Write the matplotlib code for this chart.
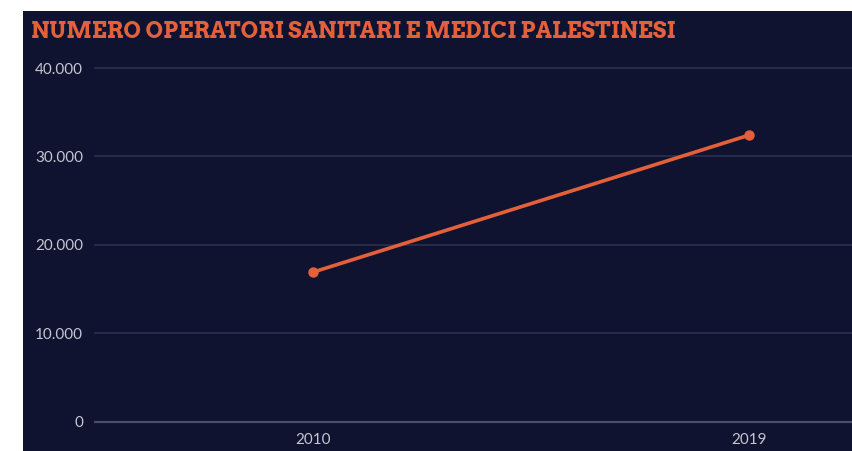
import matplotlib
matplotlib.use("Agg")
import matplotlib.pyplot as plt
from matplotlib.ticker import FuncFormatter

years = ["2010", "2019"]
values = [16900, 32400]
yticks = [0, 10000, 20000, 30000, 40000]
title = "NUMERO OPERATORI SANITARI E MEDICI PALESTINESI"

W, H = 853, 451
bg = "#10132f"
orange = "#e4603a"
tickc = "#c5c6d2"

fig = plt.figure(figsize=(W / 100, H / 100), dpi=100, facecolor="white")
bgax = fig.add_axes([23 / W, 0, 1 - 23 / W, 1 - 11 / H], zorder=-10)
bgax.set_facecolor(bg)
bgax.set_xticks([]); bgax.set_yticks([])
for s in bgax.spines.values():
    s.set_visible(False)

left_px = 94
top_px, bot_px = 60, 432
ax = fig.add_axes([left_px / W, 1 - bot_px / H, 1 - left_px / W, (bot_px - top_px) / H], zorder=1)
ax.patch.set_alpha(0)

y0_px, y40_px = 421.5, 68
upp = 40000 / (y0_px - y40_px)
ax.set_ylim(-(bot_px - y0_px) * upp, 40000 + (y40_px - top_px) * upp)

xpos = list(range(len(years)))
px2010, px2019 = 313, 749
xpp = 1 / (px2019 - px2010)
ax.set_xlim(-(px2010 - left_px) * xpp, 1 + (W - px2019) * xpp)

for t in yticks:
    ax.axhline(t, color="#4a4d6c" if t == 0 else "#2b2e50", lw=1.6 if t == 0 else 1.2, zorder=1)

ax.plot(xpos, values, color=orange, lw=2.6, marker="o", markersize=6.5, zorder=3,
        solid_capstyle="round")

ax.set_yticks(yticks)
ax.yaxis.set_major_formatter(FuncFormatter(lambda v, p: f"{int(v):,}".replace(",", ".")))
ax.set_xticks(xpos)
ax.set_xticklabels(years)
ax.tick_params(axis="both", length=0, colors=tickc, labelsize=11)
ax.tick_params(axis="y", pad=8)
ax.tick_params(axis="x", pad=1)
for lab in ax.get_xticklabels() + ax.get_yticklabels():
    lab.set_family(["Lato", "DejaVu Sans"])
for s in ax.spines.values():
    s.set_visible(False)

t = fig.text(31 / W, 1 - 38 / H, title, color=orange, fontsize=14, fontweight="bold",
             family=["Arvo", "DejaVu Serif"], va="baseline", ha="left")
fig.canvas.draw()
w = t.get_window_extent().width
t.set_fontsize(14 * 649 / w)

fig.savefig("out.png", dpi=100, facecolor="white")
